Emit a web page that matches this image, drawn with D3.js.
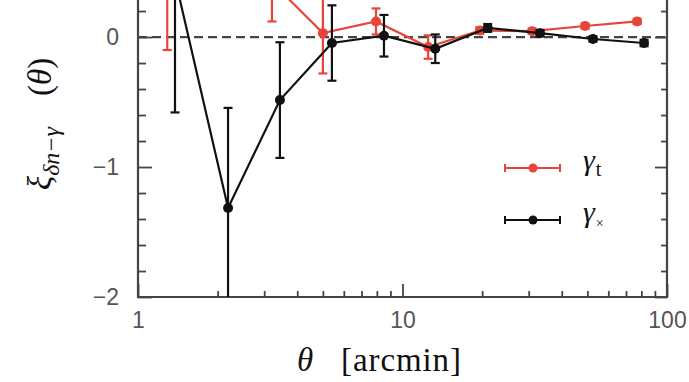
<!DOCTYPE html>
<html><head><meta charset="utf-8">
<script src="https://cdn.jsdelivr.net/npm/d3@7"></script>
<style>body{margin:0;background:#fff}svg{display:block}</style>
</head><body>
<svg id="c" width="689" height="382"></svg>
<script>
// data
const thetaT = [1.29, 2.03, 3.21, 5.0, 7.94, 12.5, 19.6, 30.9, 49.0, 77.1];
const xiT    = [0.6, 0.9, 0.42, 0.03, 0.12, -0.077, 0.05, 0.045, 0.085, 0.12];
const errT   = [0.7, 0.5, 0.30, 0.31, 0.10, 0.09, 0.025, 0.02, 0.02, 0.02];
const thetaX = [1.38, 2.19, 3.44, 5.41, 8.51, 13.3, 21.0, 33.1, 52.5, 81.9];
const xiX    = [0.45, -1.315, -0.485, -0.046, 0.01, -0.09, 0.07, 0.03, -0.015, -0.046];
const errX   = [1.03, 0.77, 0.445, 0.29, 0.16, 0.11, 0.03, 0.025, 0.02, 0.025];
const xMajor = [1, 10, 100];
const xMajorLabels = ["1", "10", "100"];
const yMajor = [0, -1, -2];
const yMajorLabels = ["0", "\u22121", "\u22122"];

const svg = d3.select("#c");
const L = 138, R = 667, B = 297, T = 0;
const x = d3.scaleLog().domain([1, 100]).range([L, R]);
const y = d3.scaleLinear().domain([-2, 0.285]).range([B, T]);
const axisCol = "#444";

const xMinor = [];
for (let d = 1; d <= 10; d *= 10) for (let k = 2; k <= 9; k++) xMinor.push(d * k);
const yMinor = d3.range(-2, 0.3, 0.2).map(v => +v.toFixed(2)).filter(v => Math.abs(v - Math.round(v)) > 1e-6);

svg.append("defs").append("clipPath").attr("id", "clip")
  .append("rect").attr("x", L).attr("y", T).attr("width", R - L).attr("height", B - T);

// zero dashed line
svg.append("line").attr("x1", L).attr("x2", R).attr("y1", y(0)).attr("y2", y(0))
  .attr("stroke", "#444").attr("stroke-width", 2.2).attr("stroke-dasharray", "9,5");

function styleAxis(g) {
  g.select(".domain").remove();
  g.selectAll("line").attr("stroke", axisCol).attr("stroke-width", 1.8);
  g.selectAll("text").attr("font-family", "Liberation Sans, Arial, sans-serif")
    .attr("font-size", 23).attr("fill", "#555");
}

// x axis
svg.append("g").attr("transform", `translate(0,${B})`)
  .call(d3.axisBottom(x).tickValues(xMajor).tickSize(-13).tickPadding(15)
    .tickFormat((d, i) => xMajorLabels[i]))
  .call(styleAxis);
svg.append("g").attr("transform", `translate(0,${B})`)
  .call(d3.axisBottom(x).tickValues(xMinor).tickSize(-6).tickFormat(""))
  .call(styleAxis);

// y axis left
svg.append("g").attr("transform", `translate(${L},0)`)
  .call(d3.axisLeft(y).tickValues(yMajor).tickSize(-14).tickPadding(19)
    .tickFormat((d, i) => yMajorLabels[i]))
  .call(styleAxis);
svg.append("g").attr("transform", `translate(${L},0)`)
  .call(d3.axisLeft(y).tickValues(yMinor).tickSize(-8).tickFormat(""))
  .call(styleAxis);
// y axis right
svg.append("g").attr("transform", `translate(${R},0)`)
  .call(d3.axisRight(y).tickValues(yMajor).tickSize(-12).tickFormat(""))
  .call(styleAxis);
svg.append("g").attr("transform", `translate(${R},0)`)
  .call(d3.axisRight(y).tickValues(yMinor).tickSize(-6).tickFormat(""))
  .call(styleAxis);

// frame
svg.append("path").attr("d", `M${L},${T}V${B}H${R}V${T}`)
  .attr("fill", "none").attr("stroke", axisCol).attr("stroke-width", 2.2);

const plot = svg.append("g").attr("clip-path", "url(#clip)");
const red = "#e8453a", black = "#111";

function series(th, v, e, col, w) {
  const data = th.map((t, i) => ({t, v: v[i], e: e[i]}));
  const g = plot.append("g");
  const line = d3.line().x(d => x(d.t)).y(d => y(d.v));
  g.append("path").datum(data).attr("d", line).attr("fill", "none")
    .attr("stroke", col).attr("stroke-width", w);
  data.forEach(d => {
    g.append("line").attr("x1", x(d.t)).attr("x2", x(d.t))
      .attr("y1", y(d.v - d.e)).attr("y2", y(d.v + d.e))
      .attr("stroke", col).attr("stroke-width", 2.2);
    [d.v - d.e, d.v + d.e].forEach(c => g.append("line")
      .attr("x1", x(d.t) - 4.5).attr("x2", x(d.t) + 4.5).attr("y1", y(c)).attr("y2", y(c))
      .attr("stroke", col).attr("stroke-width", 2.2));
  });
  g.selectAll("circle").data(data).join("circle")
    .attr("cx", d => x(d.t)).attr("cy", d => y(d.v)).attr("r", 5).attr("fill", col);
}
series(thetaT, xiT, errT, red, 2.2);
series(thetaX, xiX, errX, black, 2.2);

// legend
const leg = [{col: red, lab: "t", yy: 168}, {col: black, lab: "\u00d7", yy: 220}];
leg.forEach(l => {
  const g = svg.append("g");
  g.append("line").attr("x1", 505).attr("x2", 560).attr("y1", l.yy).attr("y2", l.yy)
    .attr("stroke", l.col).attr("stroke-width", 2.2);
  [505, 560].forEach(xx => g.append("line").attr("x1", xx).attr("x2", xx)
    .attr("y1", l.yy - 4).attr("y2", l.yy + 4).attr("stroke", l.col).attr("stroke-width", 2));
  g.append("circle").attr("cx", 533).attr("cy", l.yy).attr("r", 4.5).attr("fill", l.col);
  const t = g.append("text").attr("x", 583).attr("y", l.yy + 2)
    .attr("font-family", "Liberation Serif, serif").attr("font-size", 30).attr("fill", "#111");
  t.append("tspan").attr("font-style", "italic").text("\u03b3");
  t.append("tspan").attr("dy", 6).attr("dx", 1).attr("font-size", l.lab === "t" ? 20 : 14)
    .attr("font-family", "Liberation Serif, serif").text(l.lab);
});

// x label
const xl = svg.append("text").attr("x", 297).attr("y", 371)
  .attr("font-family", "Liberation Serif, serif").attr("font-size", 33).attr("fill", "#111");
xl.append("tspan").attr("font-style", "italic").text("\u03b8");
xl.append("tspan").attr("x", 341).attr("textLength", 120).text("[arcmin]");

// y label
const yl = svg.append("text").attr("transform", "translate(51,190) rotate(-90)")
  .attr("font-family", "Liberation Serif, serif").attr("font-size", 33).attr("fill", "#111");
yl.append("tspan").attr("font-style", "italic").text("\u03be");
yl.append("tspan").attr("font-style", "italic").attr("font-size", 24).attr("dy", 8).text("\u03b4n\u2212\u03b3");
yl.append("tspan").attr("dy", -8).attr("x", 94).text("(");
yl.append("tspan").attr("font-style", "italic").text("\u03b8");
yl.append("tspan").text(")");
</script>
</body></html>
